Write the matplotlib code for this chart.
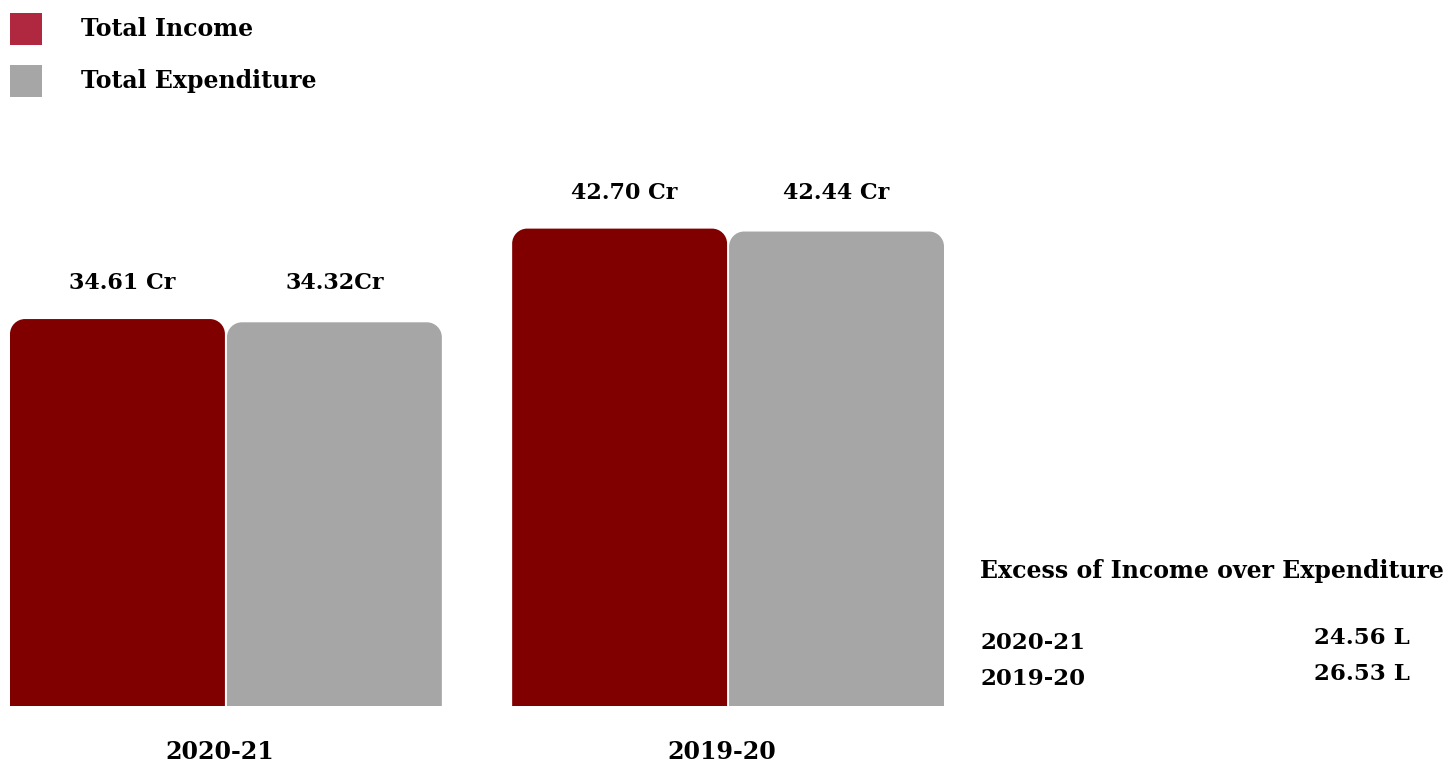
import matplotlib
matplotlib.use("Agg")
import matplotlib.pyplot as plt
from matplotlib.path import Path
from matplotlib.patches import PathPatch, Rectangle

categories = ["2020-21", "2019-20"]
income = [34.61, 42.70]
expenditure = [34.32, 42.44]
income_labels = ["34.61 Cr", "42.70 Cr"]
expenditure_labels = ["34.32Cr", "42.44 Cr"]
legend_labels = ["Total Income", "Total Expenditure"]
excess_title = "Excess of Income over Expenditure"
excess_years = ["2020-21", "2019-20"]
excess_values = ["24.56 L", "26.53 L"]

W, H = 1450, 764
fig = plt.figure(figsize=(W / 100, H / 100), dpi=100)
FONT = "DejaVu Serif"

# axes from px x 10..944, y bottom 706; scale ~11.18 px/unit
ymax = 50
ax_left, ax_right = 10, 944
ax_bottom = 706
ax_top = ax_bottom - ymax * 11.18
ax = fig.add_axes([ax_left / W, 1 - ax_bottom / H, (ax_right - ax_left) / W, (ax_bottom - ax_top) / H])
ax.set_xlim(-0.430, 1.430)
ax.set_ylim(0, ymax)
ax.axis("off")

bw = 0.428
off = 0.216
xs = list(range(len(categories)))
bars_i = ax.bar([x - off for x in xs], income, width=bw, color="#800000")
bars_e = ax.bar([x + off for x in xs], expenditure, width=bw, color="#A6A6A6")

# rounded top corners
px_per_x = (ax_right - ax_left) / (1.430 + 0.430)
px_per_y = (ax_bottom - ax_top) / ymax
r_px = 15
rx, ry = r_px / px_per_x, r_px / px_per_y
k = 0.5523
for bars in (bars_i, bars_e):
    for b in bars:
        x0, y0 = b.get_x(), b.get_y()
        w, h = b.get_width(), b.get_height()
        x1, y1 = x0 + w, y0 + h
        verts = [
            (x0, y0), (x0, y1 - ry),
            (x0, y1 - ry + k * ry), (x0 + rx - k * rx, y1), (x0 + rx, y1),
            (x1 - rx, y1),
            (x1 - rx + k * rx, y1), (x1, y1 - ry + k * ry), (x1, y1 - ry),
            (x1, y0), (x0, y0),
        ]
        codes = [Path.MOVETO, Path.LINETO,
                 Path.CURVE4, Path.CURVE4, Path.CURVE4,
                 Path.LINETO,
                 Path.CURVE4, Path.CURVE4, Path.CURVE4,
                 Path.LINETO, Path.CLOSEPOLY]
        patch = PathPatch(Path(verts, codes), facecolor=b.get_facecolor(), edgecolor="none")
        ax.add_patch(patch)
        b.set_visible(False)

# value labels
for b, lab in zip(bars_i, income_labels):
    ax.annotate(lab, (b.get_x() + b.get_width() / 2, b.get_height()), xytext=(5, 36),
                textcoords="offset pixels", ha="center", va="center",
                fontsize=16, fontweight="bold", family=FONT)
for b, lab in zip(bars_e, expenditure_labels):
    ax.annotate(lab, (b.get_x() + b.get_width() / 2, b.get_height()), xytext=(0, 39),
                textcoords="offset pixels", ha="center", va="center",
                fontsize=16, fontweight="bold", family=FONT)

# category labels
for x, c in zip(xs, categories):
    ax.annotate(c, (x, 0), xytext=(-6, -46), textcoords="offset pixels",
                ha="center", va="center", fontsize=17, fontweight="bold", family=FONT)

# legend
leg_colors = ["#B0283F", "#A6A6A6"]
for i, (lab, col) in enumerate(zip(legend_labels, leg_colors)):
    yc = 29 + 52 * i
    fig.patches.append(Rectangle((10 / W, 1 - (yc + 16) / H), 32 / W, 32 / H,
                                 transform=fig.transFigure, facecolor=col, edgecolor="none"))
    fig.text(81 / W, 1 - yc / H, lab, ha="left", va="center",
             fontsize=17, fontweight="bold", family=FONT)

# excess block
fig.text(980 / W, 1 - 571 / H, excess_title, ha="left", va="center",
         fontsize=17, fontweight="bold", family=FONT)
for i, (yr, val) in enumerate(zip(excess_years, excess_values)):
    fig.text(980 / W, 1 - (643 + 36 * i) / H, yr, ha="left", va="center",
             fontsize=16.5, fontweight="bold", family=FONT)
    fig.text(1410 / W, 1 - (638 + 36 * i) / H, val, ha="right", va="center",
             fontsize=16.5, fontweight="bold", family=FONT)

fig.savefig("out.png", dpi=100, facecolor="white")
